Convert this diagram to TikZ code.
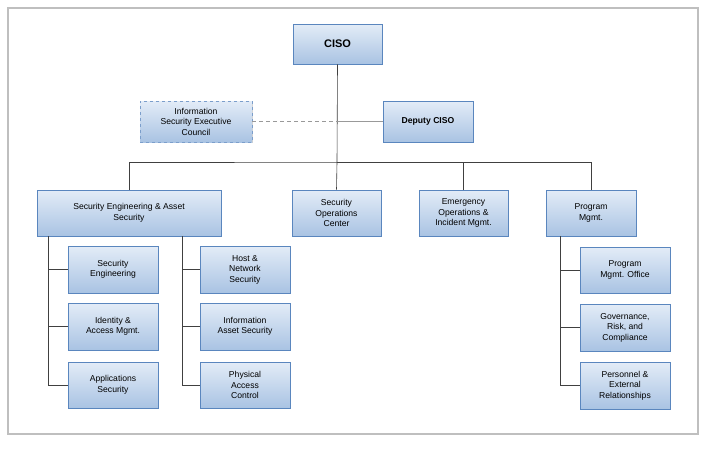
\documentclass[tikz,border=0pt]{standalone}
\usepackage{fontspec}
\setmainfont{Liberation Sans}
\usetikzlibrary{shadows}
\definecolor{bordb}{HTML}{5A86BE}
\definecolor{topb}{HTML}{E3ECF7}
\definecolor{botb}{HTML}{A9C3E3}
\begin{document}
\begin{tikzpicture}[x=1pt,y=-1pt,
  box/.style={draw=bordb,line width=0.8pt,top color=topb,bottom color=botb,align=center,
    font=\fontsize{8.6}{10.5}\selectfont,inner sep=1pt,drop shadow={shadow xshift=0.8pt,shadow yshift=-0.8pt,opacity=0.35}},
  ln/.style={draw=black!75,line width=0.6pt}]
\useasboundingbox (0,0) rectangle (722,455);
\draw[black!25,line width=1.5pt,fill=white] (8,8) rectangle (698,434);
\newcommand{\bx}[6]{\node[box,minimum width=#4-#2,minimum height=#5-#3] (#1) at ({(#2+#4)/2},{(#3+#5)/2}) {#6};}
\bx{ciso}{293}{24}{382}{64}{\fontsize{11}{13}\selectfont\bfseries CISO}
\node[box,dashed,draw=bordb!80,minimum width=112,minimum height=41] (isec) at (196,121.5) {Information\\Security Executive\\Council};
\bx{dep}{383}{101}{473}{142}{\bfseries Deputy CISO}
\bx{sea}{37}{190}{221}{236}{Security Engineering \& Asset\\Security}
\bx{soc}{292}{190}{381}{236}{Security\\Operations\\Center}
\bx{eoim}{419}{190}{508}{236}{Emergency\\Operations \&\\Incident Mgmt.}
\bx{pm}{546}{190}{636}{236}{Program\\Mgmt.}
\bx{se}{68}{246}{158}{293}{Security\\Engineering}
\bx{iam}{68}{303}{158}{350}{Identity \&\\Access Mgmt.}
\bx{as}{68}{362}{158}{408}{Applications\\Security}
\bx{hns}{200}{246}{290}{293}{Host \&\\Network\\Security}
\bx{ias}{200}{303}{290}{350}{Information\\Asset Security}
\bx{pac}{200}{362}{290}{408}{Physical\\Access\\Control}
\bx{pmo}{580}{247}{670}{293}{Program\\Mgmt. Office}
\bx{grc}{580}{304}{670}{351}{Governance,\\Risk, and\\Compliance}
\bx{per}{580}{362}{670}{409}{Personnel \&\\External\\Relationships}
\coordinate (bar) at (337,162);
\begin{scope}[on background layer/.style={}]
\end{scope}
\draw[ln] (ciso.south) -- (bar);
\draw[ln,black!40] (337,121.5) -- (dep.west);
\draw[black!40,dashed,dash pattern=on 4pt off 3pt,line width=0.9pt] (isec.east) -- (337,121.5);
\draw[ln] (bar) -- (soc.north);
\draw[ln] (sea.north) |- (bar) -| (pm.north);
\draw[ln] (eoim.north) |- (bar);
\draw[ln] (48,236) |- (se.west); \draw[ln] (48,236) |- (iam.west); \draw[ln] (48,236) |- (as.west);
\draw[ln] (182,236) |- (hns.west); \draw[ln] (182,236) |- (ias.west); \draw[ln] (182,236) |- (pac.west);
\draw[ln] (560,236) |- (pmo.west); \draw[ln] (560,236) |- (grc.west); \draw[ln] (560,236) |- (per.west);
\end{tikzpicture}
\end{document}
